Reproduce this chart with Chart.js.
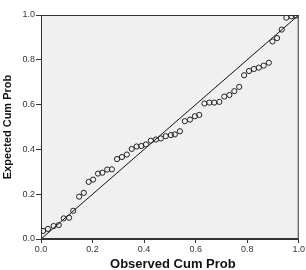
<!DOCTYPE html>
<html>
<head>
<meta charset="utf-8">
<script src="https://cdn.jsdelivr.net/npm/chart.js"></script>
<style>
html,body{margin:0;padding:0;background:#fff;}
#wrap{width:306px;height:270px;position:relative;}
</style>
</head>
<body>
<div id="wrap"><canvas id="c" width="306" height="270"></canvas></div>
<script>
const xTitle = "Observed Cum Prob";
const yTitle = "Expected Cum Prob";
const tickValues = [0.0, 0.2, 0.4, 0.6, 0.8, 1.0];
const observedCumProb = [0.008,0.027,0.049,0.069,0.088,0.109,0.125,0.148,0.166,0.185,0.202,0.221,0.238,0.257,0.275,0.295,0.314,0.333,0.352,0.371,0.389,0.407,0.426,0.446,0.465,0.484,0.504,0.519,0.539,0.558,0.578,0.597,0.614,0.634,0.653,0.672,0.692,0.711,0.731,0.750,0.769,0.788,0.807,0.826,0.845,0.864,0.884,0.898,0.916,0.934,0.952,0.972,0.988];
const expectedCumProb = [0.036,0.045,0.058,0.062,0.092,0.095,0.126,0.189,0.206,0.255,0.265,0.292,0.296,0.310,0.311,0.357,0.366,0.377,0.402,0.413,0.415,0.422,0.439,0.444,0.449,0.459,0.464,0.467,0.481,0.526,0.533,0.548,0.554,0.605,0.609,0.609,0.612,0.636,0.643,0.660,0.679,0.731,0.750,0.759,0.765,0.774,0.787,0.882,0.897,0.935,0.988,0.994,0.997];
const refLine = [0, 1];

const points = observedCumProb.map((x, i) => ({x: x, y: expectedCumProb[i]}));
const linePts = refLine.map(v => ({x: v, y: v}));

const framePlugin = {
  id: 'frame',
  beforeDatasetsDraw(chart) {
    const a = chart.chartArea, ctx = chart.ctx;
    ctx.save();
    ctx.fillStyle = '#f0f0f0';
    ctx.fillRect(a.left, a.top, a.right - a.left, a.bottom - a.top);
    ctx.restore();
  },
  afterDraw(chart) {
    const a = chart.chartArea, ctx = chart.ctx;
    ctx.save();
    ctx.strokeStyle = '#333';
    ctx.lineWidth = 1;
    ctx.strokeRect(a.left + 0.5, a.top + 0.5, a.right - a.left - 1, a.bottom - a.top - 1);
    ctx.fillStyle = '#111';
    ctx.textAlign = 'center';
    ctx.textBaseline = 'middle';
    ctx.font = 'bold 13px "Liberation Sans", Arial, sans-serif';
    ctx.fillText(xTitle, (a.left + a.right) / 2 + 3, 264);
    ctx.translate(8, 127);
    ctx.rotate(-Math.PI / 2);
    ctx.font = 'bold 11px "Liberation Sans", Arial, sans-serif';
    ctx.fillText(yTitle, 0, 0);
    ctx.restore();
  }
};

new Chart(document.getElementById('c'), {
  type: 'scatter',
  data: {
    datasets: [
      {
        type: 'line',
        data: linePts,
        borderColor: '#111',
        borderWidth: 1,
        pointRadius: 0,
        fill: false,
        order: 2
      },
      {
        data: points,
        pointRadius: 2.6,
        pointBorderWidth: 1,
        pointBorderColor: '#222',
        pointBackgroundColor: 'rgba(240,240,240,0)',
        order: 1
      }
    ]
  },
  options: {
    responsive: false,
    animation: false,
    devicePixelRatio: 1,
    layout: {padding: {top: 15, right: 7, left: 0, bottom: 0}},
    plugins: {legend: {display: false}, tooltip: {enabled: false}},
    scales: {
      x: {
        type: 'linear', min: 0, max: 1,
        afterBuildTicks(s) { s.ticks = tickValues.map(v => ({value: v})); },
        afterFit(s) { s.height = 31; },
        grid: {drawOnChartArea: false, drawTicks: true, tickLength: 4, color: '#333'},
        border: {display: true, color: '#333'},
        ticks: {
          padding: 1, color: '#333', maxRotation: 0,
          font: {size: 9, family: '"Liberation Sans", Arial, sans-serif'},
          callback: v => Number(v).toFixed(1)
        }
      },
      y: {
        type: 'linear', min: 0, max: 1,
        afterBuildTicks(s) { s.ticks = tickValues.map(v => ({value: v})); },
        afterFit(s) { s.width = 41; },
        grid: {drawOnChartArea: false, drawTicks: true, tickLength: 5, color: '#333'},
        border: {display: true, color: '#333'},
        ticks: {
          padding: 1, color: '#333',
          font: {size: 9, family: '"Liberation Sans", Arial, sans-serif'},
          callback: v => Number(v).toFixed(1)
        }
      }
    }
  },
  plugins: [framePlugin]
});
</script>
</body>
</html>
